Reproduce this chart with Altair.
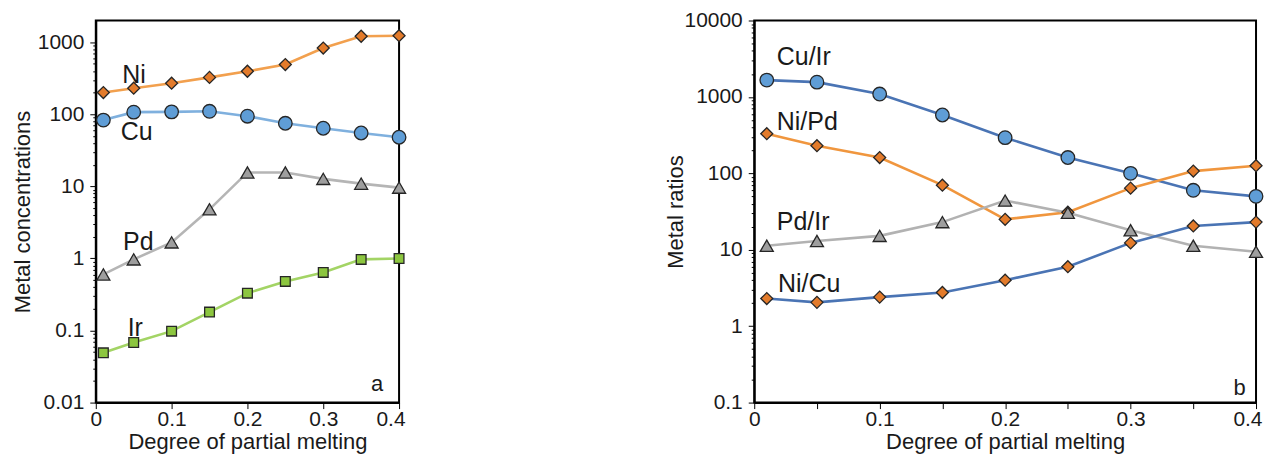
import altair as alt
import pandas as pd

# ---------------- data ----------------
x_melt = [0.01, 0.05, 0.1, 0.15, 0.2, 0.25, 0.3, 0.35, 0.4]

# panel a: metal concentrations
ni = [200, 230, 270, 325, 395, 490, 830, 1210, 1230]
cu = [83, 107, 108, 110, 94, 75, 64, 55, 48]
pd_ = [0.6, 0.97, 1.67, 4.8, 15.6, 15.6, 12.7, 10.9, 9.6]
ir = [0.049, 0.068, 0.098, 0.18, 0.33, 0.48, 0.64, 0.97, 1.0]

# panel b: metal ratios
cu_ir = [1660, 1560, 1090, 580, 293, 161, 100, 60, 50]
ni_pd = [330, 230, 161, 70, 25, 31, 64, 107, 126]
pd_ir = [11.3, 13, 15.2, 23, 44, 30.5, 18, 11.3, 9.4]
ni_cu = [2.3, 2.05, 2.4, 2.76, 4.0, 6.0, 12.3, 20.5, 23]

a_names = ["Ni", "Cu", "Pd", "Ir"]
a_label_x = [0.035, 0.033, 0.036, 0.042]
a_label_y = [355, 56, 1.67, 0.11]

b_names = ["Cu/Ir", "Ni/Pd", "Pd/Ir", "Ni/Cu"]
b_label_x = [0.018, 0.018, 0.018, 0.019]
b_label_y = [3300, 475, 23, 3.6]

x_ticks = [0, 0.05, 0.1, 0.15, 0.2, 0.25, 0.3, 0.35, 0.4]

SHAPE_SIZE = {"diamond": 144, "circle": 185, "triangle-up": 170, "square": 95}

FONT = "Liberation Sans"


def log_ticks(lo_exp, hi_exp):
    vals = []
    for e in range(lo_exp, hi_exp):
        for k in range(1, 10):
            vals.append(round(k * 10.0 ** e, 6))
    vals.append(round(10.0 ** hi_exp, 6))
    return vals


DECADE = "abs(log(datum.value)/LN10 - round(log(datum.value)/LN10)) < 0.001"
LAST_X = "datum.value > 0.399"


def panel(names, series, line_cols, fill_cols, shapes, lab_x, lab_y,
          ydom, yexp, ytitle, letter, letter_xy, width, height, title_pad):
    rows = []
    for name, vals in zip(names, series):
        for xv, yv in zip(x_melt, vals):
            rows.append({"x": xv, "y": yv, "series": name})
    df = pd.DataFrame(rows)
    lab = pd.DataFrame({"x": lab_x, "y": lab_y, "t": names})
    let = pd.DataFrame({"x": [letter_xy[0]], "y": [letter_xy[1]], "t": [letter]})

    xenc = alt.X(
        "x:Q",
        scale=alt.Scale(domain=[0, 0.4], nice=False),
        axis=alt.Axis(
            title="Degree of partial melting",
            values=x_ticks,
            labelExpr="abs(datum.value*10 - round(datum.value*10)) < 0.000001 ? format(datum.value, '~g') : ''",
            labelAlign={"condition": {"test": LAST_X, "value": "right"}, "value": "center"},
            labelOffset={"condition": {"test": LAST_X, "value": 6}, "value": 0},
            tickSize=6,
            labelPadding=0,
            titlePadding=2,
        ),
    )
    yscale = alt.Scale(type="log", domain=ydom, nice=False)
    yenc = alt.Y(
        "y:Q",
        scale=yscale,
        axis=alt.Axis(
            title=ytitle,
            values=log_ticks(yexp[0], yexp[1]),
            labelExpr=DECADE + " ? format(datum.value, '~g') : ''",
            tickSize={"condition": {"test": DECADE, "value": 6}, "value": 3},
            labelPadding=6,
            titlePadding=title_pad,
        ),
    )

    base = alt.Chart(df).encode(x=xenc, y=yenc)
    layers = []
    for name, lc in zip(names, line_cols):
        layers.append(
            base.transform_filter(alt.datum.series == name)
            .mark_line(strokeWidth=2.6, color=lc)
            .encode(order="x:Q")
        )
    for name, fc, sh in zip(names, fill_cols, shapes):
        layers.append(
            base.transform_filter(alt.datum.series == name).mark_point(
                filled=True, opacity=1, fill=fc, stroke="#262626", strokeWidth=1.3,
                shape=sh, size=SHAPE_SIZE[sh],
            )
        )
    labels = alt.Chart(lab).mark_text(
        align="left", baseline="middle", font=FONT, fontSize=25, color="#1a1a1a"
    ).encode(x=alt.X("x:Q"), y=alt.Y("y:Q"), text="t:N")
    letter_mark = alt.Chart(let).mark_text(
        align="center", baseline="middle", font=FONT, fontSize=22, color="#1a1a1a"
    ).encode(x=alt.X("x:Q"), y=alt.Y("y:Q"), text="t:N")
    layers += [labels, letter_mark]

    return alt.layer(*layers).properties(width=width, height=height)


left = panel(
    a_names, [ni, cu, pd_, ir],
    ["#F2A04E", "#7FB0DE", "#B5B5B5", "#A3D465"],
    ["#E37B2B", "#5F9DD6", "#9E9E9E", "#8CC63F"],
    ["diamond", "circle", "triangle-up", "square"],
    a_label_x, a_label_y,
    [0.01, 2000], (-2, 3), "Metal concentrations", "a", (0.371, 0.018),
    304, 383, 3,
)

right = panel(
    b_names, [cu_ir, ni_pd, pd_ir, ni_cu],
    ["#4A74B4", "#F0963E", "#B2B2B2", "#4A74B4"],
    ["#5F9DD6", "#E37B2B", "#9E9E9E", "#E37B2B"],
    ["circle", "diamond", "triangle-up", "diamond"],
    b_label_x, b_label_y,
    [0.1, 10000], (-1, 4), "Metal ratios", "b", (0.387, 0.157),
    503, 383, -4,
)

chart = alt.hconcat(left, right, spacing=356, bounds="flush").configure_view(
    stroke="black", strokeWidth=2
).configure_axis(
    labelFont=FONT, titleFont=FONT, labelFontSize=21, titleFontSize=22,
    labelColor="#1a1a1a", titleColor="#1a1a1a", titleFontWeight="normal",
    domainColor="black", domainWidth=2, tickColor="black", tickWidth=1,
    grid=False, labelOverlap=False, labelFlush=False,
).properties(background="white", padding={"left": 2, "top": 0, "right": 0, "bottom": 0})

chart.save("out.html", embed_options={"renderer": "svg", "actions": False})
